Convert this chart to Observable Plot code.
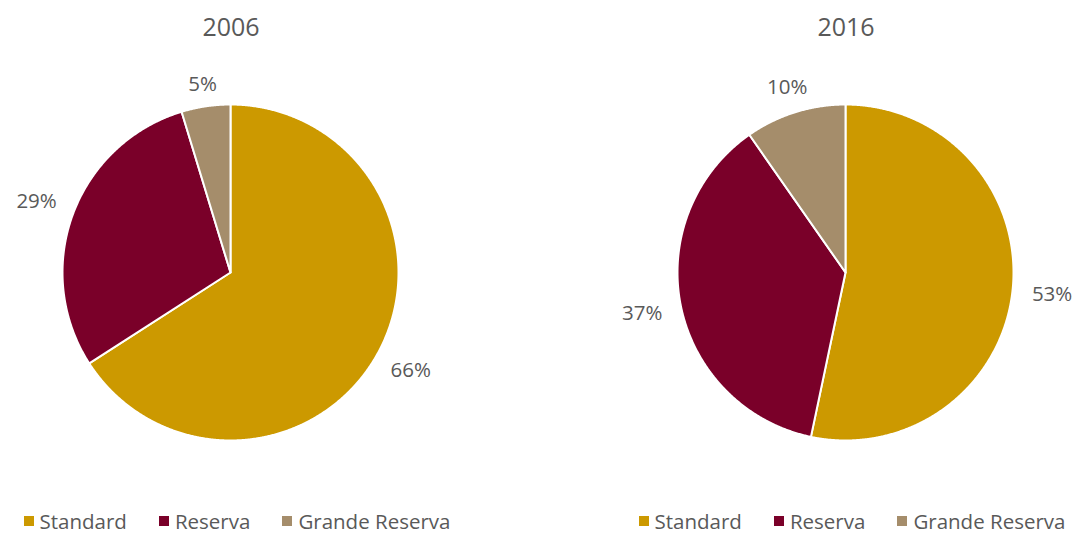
<!DOCTYPE html>
<html><head><meta charset="utf-8">
<script src="https://cdn.jsdelivr.net/npm/d3@7"></script>
<script src="https://cdn.jsdelivr.net/npm/@observablehq/plot@0.6"></script>
<style>
body{margin:0;background:#fff;font-family:"Open Sans",sans-serif;}
#wrap{position:relative;width:1073px;height:535px;background:#fff;}
.panel{position:absolute;top:0;width:460px;height:535px;}
.title{position:absolute;top:10px;left:0;width:460px;text-align:center;font-size:25px;color:#595959;line-height:32px;}
.svgbox{position:absolute;top:52px;left:0;}
.legbox{position:absolute;top:507px;left:6px;width:460px;height:28px;display:flex;justify-content:center;}
.lg-swatches{font-family:"Open Sans",sans-serif !important;font-size:20.5px !important;line-height:28px !important;color:#595959 !important;min-height:0 !important;margin:0 !important;}
.lg-swatch{margin-right:32px !important;line-height:28px !important;}
.lg-swatch:last-child{margin-right:0 !important;}
.lg-swatch > svg{margin-right:6px !important;}
</style></head>
<body><div id="wrap"></div>
<script>
const years = ["2006", "2016"];
const categories = ["Standard", "Reserva", "Grande Reserva"];
const share2006 = [65.9, 29.4, 4.7];
const share2016 = [53.3, 37.0, 9.7];
const colors = ["#CC9900", "#7A0029", "#A58D6B"];

const shares = [share2006, share2016];
const R = 168;          // pie radius in px
const half = 229;       // half width of panel in px
const boxH = 440;
const panelLeft = [1, 616];

function slices(values) {
  const total = d3.sum(values);
  let acc = 0;
  return values.map((v, i) => {
    const a0 = acc / total * 2 * Math.PI;
    acc += v;
    const a1 = acc / total * 2 * Math.PI;
    return {cat: categories[i], value: v, a0, a1};
  });
}

function polygonPoints(sl) {
  const pts = [];
  for (const s of sl) {
    pts.push({cat: s.cat, x: 0, y: 0});
    const n = Math.max(4, Math.ceil((s.a1 - s.a0) / 0.005));
    for (let k = 0; k <= n; k++) {
      const a = s.a0 + (s.a1 - s.a0) * k / n;
      pts.push({cat: s.cat, x: Math.sin(a), y: Math.cos(a)});
    }
    pts.push({cat: s.cat, x: 0, y: 0});
  }
  return pts;
}

function labelPoints(sl) {
  return sl.map(s => {
    const m = (s.a0 + s.a1) / 2;
    const sx = Math.sin(m), sy = Math.cos(m);
    const txt = Math.round(s.value) + "%";
    const hw = txt.length * 6.6;
    const r = 1 + (20 + Math.abs(sx) * hw) / R;
    return {label: txt, x: sx * r, y: sy * r};
  });
}

const wrap = document.getElementById("wrap");
years.forEach((yr, idx) => {
  const sl = slices(shares[idx]);
  const panel = document.createElement("div");
  panel.className = "panel";
  panel.style.left = panelLeft[idx] + "px";
  const t = document.createElement("div");
  t.className = "title";
  t.textContent = yr;
  panel.appendChild(t);

  const chart = Plot.plot({
    width: 2 * half,
    height: boxH,
    margin: 0,
    x: {domain: [-half / R, half / R], axis: null},
    y: {domain: [-(boxH / 2) / R, (boxH / 2) / R], axis: null},
    color: {domain: categories, range: colors},
    style: {background: "transparent", overflow: "visible"},
    marks: [
      Plot.line(polygonPoints(sl), {x: "x", y: "y", z: "cat", fill: "cat", stroke: "white", strokeWidth: 2, strokeLinejoin: "round", curve: "linear"}),
      Plot.text(labelPoints(sl), {x: "x", y: "y", text: "label", fill: "#595959", fontSize: 20.5, fontFamily: "Open Sans"})
    ]
  });
  const box = document.createElement("div");
  box.className = "svgbox";
  box.appendChild(chart);
  panel.appendChild(box);

  const lb = document.createElement("div");
  lb.className = "legbox";
  lb.appendChild(Plot.legend({color: {domain: categories, range: colors}, legend: "swatches", swatchSize: 10, className: "lg"}));
  panel.appendChild(lb);
  wrap.appendChild(panel);
});
</script></body></html>
